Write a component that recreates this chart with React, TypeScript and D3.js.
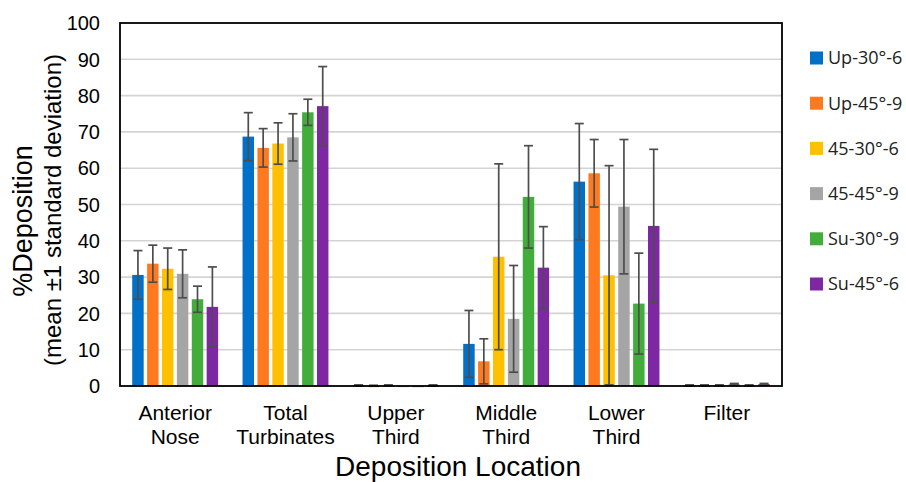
import React, { useRef, useEffect } from "react";
import * as d3 from "d3";

const locations = [
  ["Anterior", "Nose"],
  ["Total", "Turbinates"],
  ["Upper", "Third"],
  ["Middle", "Third"],
  ["Lower", "Third"],
  ["Filter"],
];
const seriesNames = ["Up-30°-6", "Up-45°-9", "45-30°-6", "45-45°-9", "Su-30°-9", "Su-45°-6"];
const seriesColors = ["#0070c8", "#ff7a1f", "#ffc000", "#a5a5a5", "#43ad3c", "#7d27a3"];

// mean per location, one array per series
const upA6 = [30.6, 68.7, 0.2, 11.6, 56.3, 0.2];
const upB9 = [33.7, 65.6, 0.1, 6.8, 58.6, 0.2];
const midA6 = [32.3, 66.8, 0.2, 35.6, 30.5, 0.2];
const midB9 = [30.9, 68.5, 0.1, 18.5, 49.4, 0.5];
const suA9 = [23.9, 75.4, 0.1, 52.1, 22.7, 0.2];
const suB6 = [21.8, 77.1, 0.2, 32.6, 44.1, 0.5];
// standard deviations
const sdUpA6 = [6.7, 6.6, 0.1, 9.2, 16, 0.1];
const sdUpB9 = [5.1, 5.3, 0.1, 6.2, 9.3, 0.1];
const sdMidA6 = [5.7, 5.7, 0.1, 25.6, 30.2, 0.1];
const sdMidB9 = [6.6, 6.5, 0, 14.7, 18.5, 0.2];
const sdSuA9 = [3.6, 3.6, 0, 14.1, 13.9, 0.1];
const sdSuB6 = [11, 10.9, 0.1, 11.3, 21.1, 0.2];

const means = [upA6, upB9, midA6, midB9, suA9, suB6];
const sds = [sdUpA6, sdUpB9, sdMidA6, sdMidB9, sdSuA9, sdSuB6];
const yTicks = [0, 10, 20, 30, 40, 50, 60, 70, 80, 90, 100];

const App = () => {
  const ref = useRef(null);

  useEffect(() => {
    const svg = d3.select(ref.current);
    svg.selectAll("*").remove();

    const left = 120, right = 782, top = 23, bottom = 386;
    const axisFont = "'Liberation Sans', Arial, sans-serif";

    const x0 = d3.scaleBand().domain(d3.range(locations.length)).range([left, right]);
    const x1 = d3
      .scaleBand()
      .domain(d3.range(seriesNames.length))
      .range([10.5, x0.bandwidth() - 10.5])
      .paddingInner(0.23)
      .paddingOuter(0.115);
    const y = d3.scaleLinear().domain([0, 100]).range([bottom, top]);

    // gridlines
    svg
      .append("g")
      .selectAll("line")
      .data(yTicks.slice(1, -1))
      .join("line")
      .attr("x1", left)
      .attr("x2", right)
      .attr("y1", (d) => y(d))
      .attr("y2", (d) => y(d))
      .attr("stroke", "#d4d4d4")
      .attr("stroke-width", 1.6);

    // y tick labels
    svg
      .append("g")
      .selectAll("text")
      .data(yTicks)
      .join("text")
      .attr("x", 100)
      .attr("y", (d) => y(d))
      .attr("dy", "0.36em")
      .attr("text-anchor", "end")
      .attr("font-family", axisFont)
      .attr("font-size", 20)
      .attr("fill", "#000")
      .text((d) => d);

    // bars
    const groups = svg
      .append("g")
      .selectAll("g")
      .data(means)
      .join("g")
      .attr("fill", (d, i) => seriesColors[i]);

    groups
      .selectAll("rect")
      .data((d, i) => d.map((v, j) => ({ v, j, i })))
      .join("rect")
      .attr("x", (d) => x0(d.j) + x1(d.i))
      .attr("width", x1.bandwidth())
      .attr("y", (d) => y(d.v))
      .attr("height", (d) => Math.max(y(0) - y(d.v), 1.5));

    // error bars
    const errs = [];
    means.forEach((arr, i) =>
      arr.forEach((v, j) => {
        if (sds[i][j] > 0) errs.push({ i, j, lo: Math.max(v - sds[i][j], 0), hi: v + sds[i][j] });
      })
    );
    const eg = svg
      .append("g")
      .attr("stroke", "#4d4d4d")
      .attr("stroke-width", 1.7)
      .selectAll("g")
      .data(errs)
      .join("g")
      .attr("transform", (d) => `translate(${x0(d.j) + x1(d.i) + x1.bandwidth() / 2},0)`);
    eg.append("line").attr("y1", (d) => y(d.lo)).attr("y2", (d) => y(d.hi));
    eg.append("line").attr("x1", -4.5).attr("x2", 4.5).attr("y1", (d) => y(d.hi)).attr("y2", (d) => y(d.hi));
    eg.append("line").attr("x1", -4.5).attr("x2", 4.5).attr("y1", (d) => y(d.lo)).attr("y2", (d) => y(d.lo));

    // frame
    svg
      .append("rect")
      .attr("x", left)
      .attr("y", top)
      .attr("width", right - left)
      .attr("height", bottom - top)
      .attr("fill", "none")
      .attr("stroke", "#000")
      .attr("stroke-width", 1.8);

    // x labels
    const xl = svg
      .append("g")
      .selectAll("text")
      .data(locations)
      .join("text")
      .attr("x", (d, j) => x0(j) + x0.bandwidth() / 2)
      .attr("y", 420)
      .attr("text-anchor", "middle")
      .attr("font-family", axisFont)
      .attr("font-size", 21)
      .attr("fill", "#000");
    xl.selectAll("tspan")
      .data((d) => d)
      .join("tspan")
      .attr("x", function () {
        return d3.select(this.parentNode).attr("x");
      })
      .attr("dy", (d, k) => (k === 0 ? 0 : 24))
      .text((d) => d);

    svg
      .append("text")
      .attr("x", 458)
      .attr("y", 476)
      .attr("text-anchor", "middle")
      .attr("font-family", axisFont)
      .attr("font-size", 28)
      .attr("fill", "#000")
      .text("Deposition Location");

    // y title
    svg
      .append("text")
      .attr("transform", "translate(32,221) rotate(-90)")
      .attr("text-anchor", "middle")
      .attr("font-family", axisFont)
      .attr("font-size", 27)
      .attr("fill", "#000")
      .text("%Deposition");
    svg
      .append("text")
      .attr("transform", "translate(61,210) rotate(-90)")
      .attr("text-anchor", "middle")
      .attr("font-family", axisFont)
      .attr("font-size", 24)
      .attr("fill", "#000")
      .text("(mean ±1 standard deviation)");

    // legend
    const lg = svg
      .append("g")
      .selectAll("g")
      .data(seriesNames)
      .join("g")
      .attr("transform", (d, i) => `translate(810,${58 + i * 45.2})`);
    lg.append("rect")
      .attr("x", 0)
      .attr("y", -6.5)
      .attr("width", 13)
      .attr("height", 13)
      .attr("fill", (d, i) => seriesColors[i]);
    lg.append("text")
      .attr("x", 18)
      .attr("dy", "0.36em")
      .attr("font-family", "'Open Sans', sans-serif")
      .attr("font-size", 18)
      .attr("fill", "#222")
      .text((d) => d);
  }, []);

  return (
    <svg
      ref={ref}
      width={906}
      height={482}
      style={{ position: "absolute", left: 0, top: 0, background: "#fff" }}
    />
  );
};

export default App;
